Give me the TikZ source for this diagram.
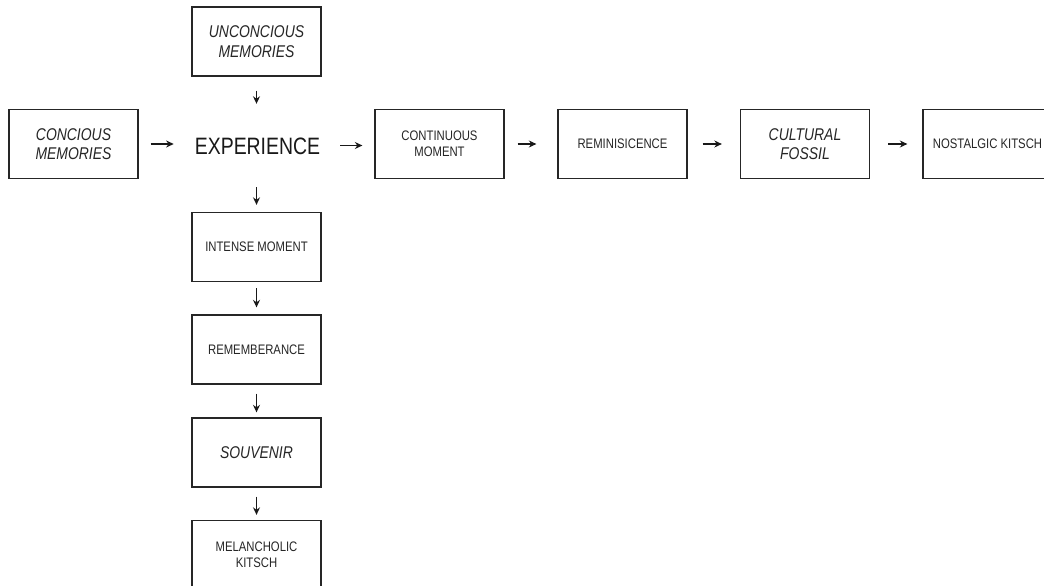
\documentclass[tikz,border=0pt]{standalone}
\usepackage{fontspec}
\newfontfamily\nar[FakeStretch=0.82]{Liberation Sans}
\usetikzlibrary{arrows.meta}
\begin{document}
\begin{tikzpicture}[x=1pt,y=-1pt,
  box/.style={draw=black!85,line width=1.3pt,minimum width=129pt,minimum height=69pt,inner sep=0pt,align=center,text=black!85},
  small/.style={font=\nar\fontsize{13.8}{16}\selectfont},
  ital/.style={font=\nar\itshape\fontsize{17}{19.3}\selectfont},
  arr/.style={line width=1.5pt,-{Stealth[length=7.5pt,width=7pt]},black!90}]
\clip (0,0) rectangle (1044,586);
\fill[white] (0,0) rectangle (1044,586);
\node[box,ital] (unc) at (256.5,41.5) {UNCONCIOUS\\MEMORIES};
\node[box,ital] (con) at (73.5,144) {CONCIOUS\\MEMORIES};
\node[inner sep=0pt,text height=17pt,text depth=0pt,font=\nar\fontsize{23.7}{26}\selectfont,text=black!90] (exp) at (257.5,145.5) {EXPERIENCE};
\node[box,small] (cont) at (439.5,144) {CONTINUOUS\\MOMENT};
\node[box,small] (rem) at (622.5,144) {REMINISICENCE};
\node[box,ital] (cult) at (805,144) {CULTURAL\\FOSSIL};
\node[box,small] (nost) at (987.5,144) {NOSTALGIC KITSCH};
\node[box,small] (int) at (256.5,247) {INTENSE MOMENT};
\node[box,small] (remb) at (256.5,349.5) {REMEMBERANCE};
\node[box,ital] (souv) at (256.5,452.5) {SOUVENIR};
\node[box,small] (mel) at (256.5,555) {MELANCHOLIC\\KITSCH};
\draw[arr,shorten <=12pt,shorten >=21pt] (con) -- (con.east -| exp.west);
\draw[arr,shorten <=20pt,shorten >=12pt] (exp.east) -- (exp.east -| cont.west);
\draw[arr,shorten <=13pt,shorten >=21pt] (cont) -- (rem);
\draw[arr,shorten <=15pt,shorten >=18pt] (rem) -- (cult);
\draw[arr,shorten <=18pt,shorten >=15pt] (cult) -- (nost);
\draw[arr,shorten <=14pt,shorten >=33pt] (unc) -- (unc.south |- exp.north);
\draw[arr,shorten <=33pt,shorten >=7pt] (int.north |- exp.south) -- (int);
\draw[arr,shorten <=6pt,shorten >=7pt] (int) -- (remb);
\draw[arr,shorten <=9pt,shorten >=5pt] (remb) -- (souv);
\draw[arr,shorten <=9pt,shorten >=5pt] (souv) -- (mel);
\end{tikzpicture}
\end{document}
